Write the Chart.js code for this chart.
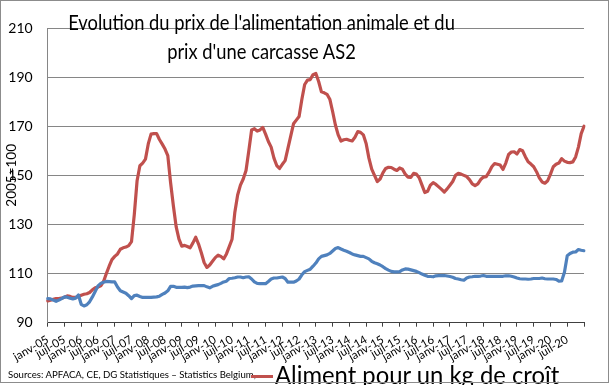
<!DOCTYPE html>
<html>
<head>
<meta charset="utf-8">
<script src="https://cdn.jsdelivr.net/npm/chart.js@4.4.1/dist/chart.umd.min.js"></script>
<style>
  html, body { margin: 0; padding: 0; background: #ffffff; }
  #wrap { position: relative; width: 611px; height: 385px; overflow: hidden; font-family: Lato, "Open Sans", sans-serif; color: #000; }
  #chart { position: absolute; left: 0; top: 0; }
  #title { position: absolute; left: 0; top: 8px; width: 523px; text-align: center; font-size: 21.5px; line-height: 29px; white-space: nowrap; transform: scaleX(0.853); transform-origin: 261.5px 0; }
  #source { position: absolute; left: 8px; top: 368px; font-size: 9.6px; line-height: 13px; white-space: nowrap; }
  #swatch { position: absolute; left: 251px; top: 374.5px; width: 22px; height: 3px; background: #C0504D; }
  #legend { position: absolute; left: 275px; top: 359px; white-space: nowrap; font-size: 25.5px; line-height: 30px; transform: scaleX(0.934); transform-origin: 0 0; }
  #frame { position: absolute; left: 0; top: 0; width: 607px; height: 381px; border: 1px solid #8c8c8c; pointer-events: none; }
</style>
</head>
<body>
<div id="wrap">
  <canvas id="chart" width="611" height="385"></canvas>
  <div id="title">Evolution du prix de l'alimentation animale et du<br>prix d'une carcasse AS2</div>
  <div id="source">Sources: APFACA, CE, DG Statistiques – Statistics Belgium,</div>
  <div id="swatch"></div>
  <div id="legend">Aliment pour un kg de croît</div>
  <div id="frame"></div>
</div>
<script>
// ---- DATA ----
const monthNames = ['janv','févr','mars','avr','mai','juin','juil','août','sept','oct','nov','déc'];
const startYear = 2005;
const monthCount = 193; // janv-05 ... janv-21

const tickLabels = [
  'janv-05','juil-05','janv-06','juil-06','janv-07','juil-07','janv-08','juil-08',
  'janv-09','juil-09','janv-10','juil-10','janv-11','juil-11','janv-12','juil-12',
  'janv-13','juil-13','janv-14','juil-14','janv-15','juil-15','janv-16','juil-16',
  'janv-17','juil-17','janv-18','juil-18','janv-19','juil-19','janv-20','juil-20'
];

// Aliment pour un kg de croît (red)
const alimentValues = [
  98.9, 99.2, 99.5, 99.8, 99.8, 100, 100.4, 100.9, 100.7, 100.3,
  100.3, 100.7, 101.2, 101.6, 101.8, 102.3, 103.4, 104.2, 104.5, 105,
  106.8, 110, 113, 115.7, 117, 118, 119.9, 120.5, 120.8, 121.4,
  123, 134, 147.8, 153.9, 155, 156.6, 162.8, 166.8, 167, 167,
  164.6, 162.7, 160.7, 158, 147, 137.5, 129, 124, 121.2, 121.5,
  121, 120.5, 122.5, 124.8, 122, 118.5, 114.5, 112.5, 113.5, 115,
  116.5, 117.5, 117, 116, 118, 121, 124, 135, 142, 146,
  148.5, 152, 160, 168.5, 169, 168, 168.5, 169.5, 166.8, 163.8,
  161.5, 157, 154, 152.8, 154.5, 156, 161, 166, 171, 172.5,
  174, 181, 187, 188.8, 189, 191, 191.5, 188.2, 184, 183.6,
  183, 181, 176, 170.5, 166.5, 164, 164.5, 164.7, 164.3, 164,
  165.5, 167.8, 167.5, 166.5, 163, 157, 152.5, 150, 147.5, 148.5,
  151, 152.8, 153.3, 153.2, 152.5, 152, 153, 152.5, 150.5, 149.3,
  149.2, 150.8, 150.5, 149, 146, 143, 143.5, 146, 147, 146.3,
  145.3, 144.3, 143.2, 144.5, 146, 147.5, 150, 150.8, 150.5, 150,
  149.5, 148.3, 146.5, 145.8, 146.5, 148.3, 149.3, 149.5, 151.3, 153.5,
  154.8, 154.5, 154.2, 152.4, 155, 158.5, 159.5, 159.6, 158.7, 160.5,
  160, 157.6, 155.5, 154.6, 153.5, 151.5, 149, 147.3, 146.8, 147.8,
  150.5, 153.5, 154.5, 155, 156.8, 155.8, 155.3, 155.2, 155.5, 157.5,
  161.5, 167, 170
];

// Prix d'une carcasse AS2 (blue)
const carcasseValues = [
  99.8, 99.7, 99.2, 98.7, 99.2, 99.8, 100.5, 100.4, 100, 99.7,
  100, 101.3, 97.5, 96.8, 97.3, 98.5, 100.5, 102.7, 105, 106,
  106.5, 106.8, 106.7, 106.6, 106.6, 104.5, 103, 102.5, 102, 101,
  99.8, 101, 101.2, 100.7, 100.3, 100.3, 100.3, 100.3, 100.4, 100.5,
  100.8, 101.5, 102.1, 103, 104.8, 104.8, 104.4, 104.4, 104.4, 104.5,
  104.3, 104.5, 104.9, 105, 105.1, 105.1, 105.1, 104.6, 104.2, 104.8,
  105.2, 105.5, 106, 106.6, 106.9, 108, 108.1, 108.3, 108.6, 108.6,
  108.3, 108.6, 108.7, 107.8, 106.6, 106, 105.9, 105.9, 105.9, 106.8,
  107.8, 108.2, 108.2, 108.4, 108.6, 108, 106.5, 106.5, 106.5, 107,
  107.8, 109.5, 110.8, 111.3, 111.8, 113, 114.3, 116, 117, 117.3,
  117.6, 118.2, 119.2, 120.2, 120.6, 120, 119.5, 119.1, 118.6, 118,
  117.6, 117.3, 117, 117, 116.5, 116, 115, 114.4, 114, 113.5,
  112.8, 112, 111.4, 110.9, 110.7, 110.7, 110.8, 111.5, 111.9, 111.8,
  111.5, 111.2, 110.9, 110.4, 109.8, 109.3, 108.9, 108.8, 108.7, 109.1,
  109.2, 109.2, 109.2, 109, 108.8, 108.5, 108, 107.8, 107.5, 107.3,
  108.2, 108.6, 108.7, 108.9, 108.9, 109, 109.2, 108.9, 108.9, 108.9,
  108.9, 108.9, 108.9, 108.9, 109.1, 109.1, 108.9, 108.6, 108.2, 107.9,
  107.8, 107.8, 107.7, 107.8, 108, 108, 108, 108.2, 107.9, 107.8,
  107.8, 107.8, 107.6, 106.9, 107, 110.5, 117.3, 118.2, 118.7, 118.8,
  119.8, 119.5, 119.3
];

const yMin = 90, yMax = 210, yStep = 20;

// ---- BUILD ----
const categories = [];
for (let i = 0; i < monthCount; i++) {
  const y = startYear + Math.floor(i / 12);
  categories.push(monthNames[i % 12] + '-' + String(y).slice(2));
}

const FONT = 'Lato, "Open Sans", sans-serif';

new Chart(document.getElementById('chart'), {
  type: 'line',
  data: {
    labels: categories,
    datasets: [
      {
        label: "Prix d'une carcasse AS2",
        data: carcasseValues,
        borderColor: '#4F81BD',
        backgroundColor: '#4F81BD',
        borderWidth: 3.2,
        pointRadius: 0,
        tension: 0,
        borderJoinStyle: 'round',
        borderCapStyle: 'round'
      },
      {
        label: 'Aliment pour un kg de croît',
        data: alimentValues,
        borderColor: '#C0504D',
        backgroundColor: '#C0504D',
        borderWidth: 3.2,
        pointRadius: 0,
        tension: 0,
        borderJoinStyle: 'round',
        borderCapStyle: 'round'
      }
    ]
  },
  options: {
    responsive: false,
    animation: false,
    events: [],
    layout: { padding: { left: 0, top: 28, right: 27, bottom: 0 } },
    plugins: { legend: { display: false }, tooltip: { enabled: false }, title: { display: false } },
    scales: {
      x: {
        type: 'category',
        offset: false,
        afterBuildTicks: (scale) => { scale.ticks = scale.ticks.filter(t => t.value % 6 === 0); },
        afterFit: (scale) => { scale.height = 62.3; },
        grid: { display: true, drawOnChartArea: false, drawTicks: true, tickLength: 4, color: '#404040', lineWidth: 1 },
        border: { display: true, color: '#404040', width: 1 },
        ticks: {
          autoSkip: false,
          minRotation: 30,
          maxRotation: 30,
          padding: 6,
          color: '#000',
          font: { family: FONT, size: 11.5 },
          callback: function (value) {
            const k = value / 6;
            return k < tickLabels.length ? tickLabels[k] : '';
          }
        }
      },
      y: {
        min: yMin,
        max: yMax,
        afterFit: (scale) => { scale.width = 47.7; },
        grid: { color: '#868686', lineWidth: 1, drawTicks: false },
        border: { display: true, color: '#868686', width: 1 },
        ticks: {
          stepSize: yStep,
          padding: 15,
          color: '#000',
          font: { family: FONT, size: 14 }
        },
        title: {
          display: true,
          text: '2005=100',
          color: '#000',
          font: { family: FONT, size: 13.5 },
          padding: { top: 4, bottom: 0 }
        }
      }
    }
  }
});
</script>
</body>
</html>
